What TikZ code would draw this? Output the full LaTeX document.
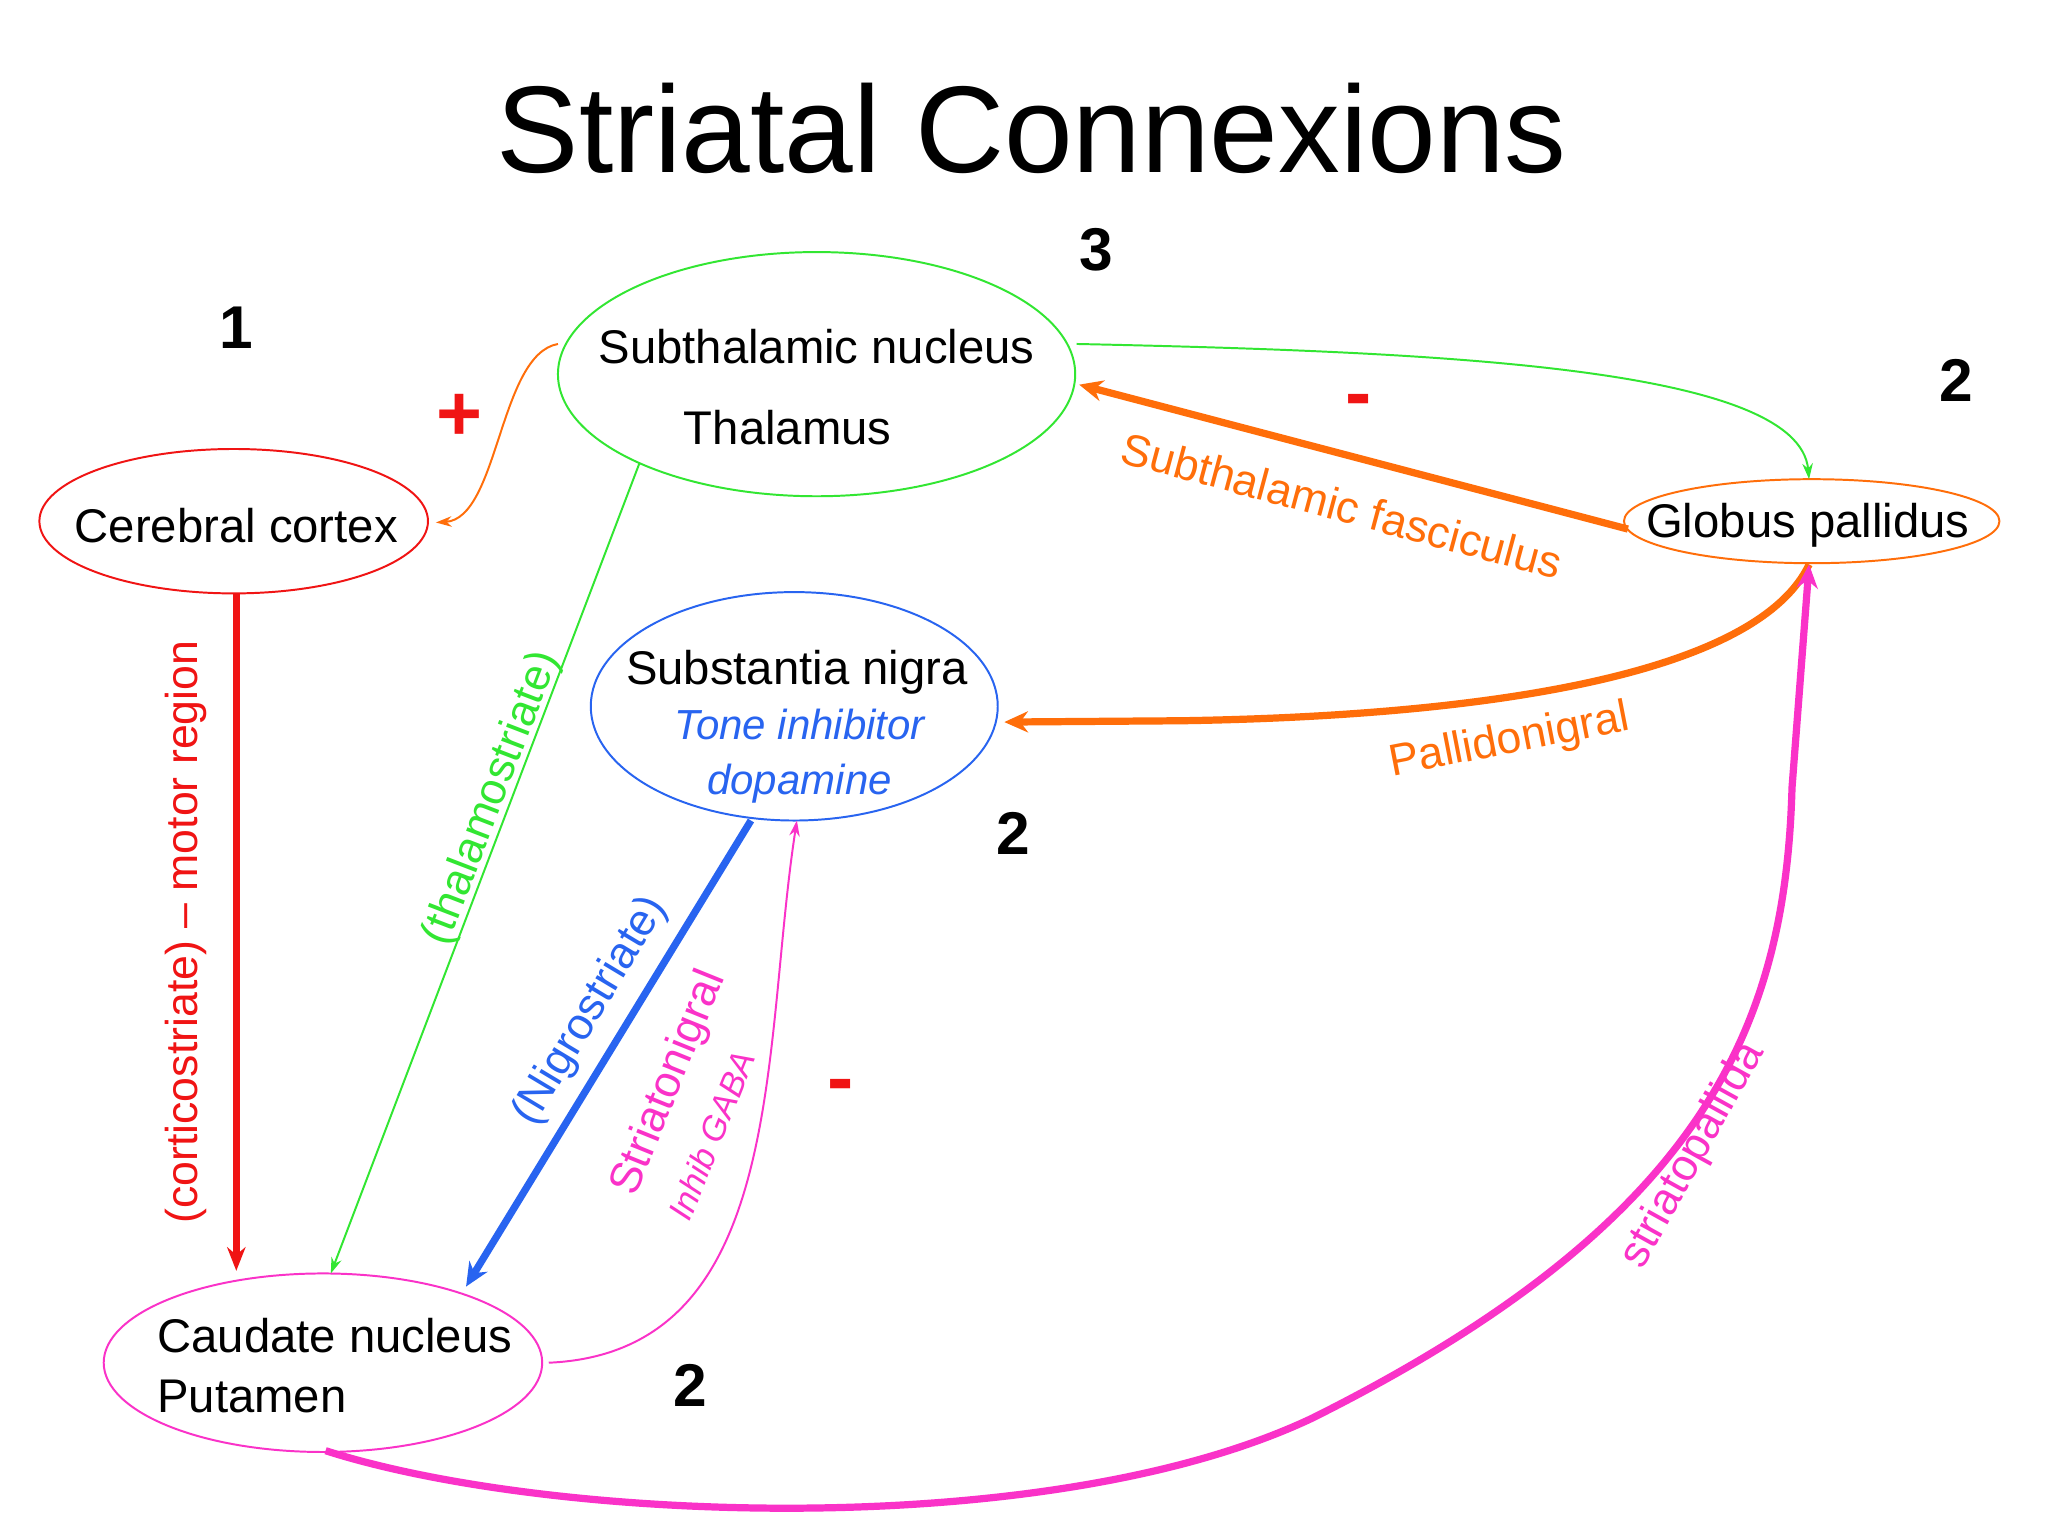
\documentclass[tikz,border=0pt]{standalone}
\usepackage{fontspec}
\setmainfont{Liberation Sans}
\usetikzlibrary{shapes.geometric,arrows.meta}
\definecolor{cred}{RGB}{240,20,20}
\definecolor{corange}{RGB}{255,110,10}
\definecolor{cgreen}{RGB}{50,230,50}
\definecolor{cblue}{RGB}{40,100,240}
\definecolor{cmag}{RGB}{250,50,200}
\tikzset{
 oval/.style={ellipse,draw,line width=1.5pt,inner sep=0pt},
 ntext/.style={font=\fontsize{36}{46}\selectfont,align=center},
 lab/.style={font=\fontsize{34}{40}\selectfont},
 num/.style={font=\fontsize{46}{50}\selectfont\bfseries},
 sign/.style={font=\fontsize{60}{60}\selectfont\bfseries,text=cred},
 thin/.style={line width=1.5pt,-{Stealth[length=12pt,width=8pt]}},
 thick/.style={line width=5.5pt,-{Stealth[length=18pt,width=16pt]}},
}
\begin{document}
\begin{tikzpicture}[x=1pt,y=-1pt]
\useasboundingbox[fill=white] (0,0) rectangle (1560,1170);
\node[font=\fontsize{94}{100}\selectfont] (title) at (786,98) {Striatal Connexions};
\node[oval,draw=cgreen,minimum width=394pt,minimum height=186pt] (st) at (622,285) {};
\node[ntext] (stt) at (622,264) {Subthalamic nucleus};
\node[ntext] (tht) at (600,326) {Thalamus};
\node[oval,draw=cred,minimum width=296pt,minimum height=110pt] (cc) at (178,397) {};
\node[ntext] (cct) at (180,400) {Cerebral cortex};
\node[oval,draw=corange,minimum width=286pt,minimum height=64pt] (gp) at (1380,397) {};
\node[ntext] (gpt) at (1377,400) {Globus pallidus};
\node[oval,draw=cblue,minimum width=310pt,minimum height=174pt] (sn) at (605,538) {};
\node[ntext] (snt) at (607,512) {Substantia nigra};
\node[font=\fontsize{32}{42}\selectfont\itshape,text=cblue,align=center] (snt2) at (609,576) {Tone inhibitor\\dopamine};
\node[oval,draw=cmag,minimum width=334pt,minimum height=136pt] (cn) at (246,1038) {};
\node[ntext,align=left] (cnt) at (255,1040) {Caudate nucleus\\Putamen};
\node[num] (n3) at (835,190) {3};
\node[num] (n1) at (180,250) {1};
\node[num] (n2a) at (1490,290) {2};
\node[num] (n2b) at (772,635) {2};
\node[num] (n2c) at (526,1055) {2};
\node[sign] (p1) at (350,318) {+};
\node[sign] (m1) at (1035,310) {-};
\node[sign] (m2) at (640,832) {-};
\coordinate (a1) at (180,452); \coordinate (a2) at (180,968);
\draw[thick,draw=cred,-{Stealth[length=18pt,width=14pt]},fill=cred] (a1) -- (a2);
\node[lab,text=cred,rotate=90] (l1) at (142,710) {(corticostriate) -- motor region};
\coordinate (b1) at (425,262); \coordinate (b2) at (332,398);
\draw[thin,draw=corange] (b1) .. controls (380,270) and (380,395) .. (b2);
\coordinate (c1) at (820,262); \coordinate (c2) at (1378,365);
\draw[thin,draw=cgreen] (c1) .. controls (1100,268) and (1370,280) .. (c2);
\coordinate (d1) at (1240,403); \coordinate (d2) at (822,293);
\draw[thick,draw=corange] (d1) -- (d2);
\node[lab,text=corange,rotate=-15] (l2) at (1022,385) {Subthalamic fasciculus};
\coordinate (e1) at (1378,430); \coordinate (e2) at (765,550);
\draw[thick,draw=corange] (e1) .. controls (1340,510) and (1150,545) .. (900,549) -- (e2);
\node[lab,text=corange,rotate=11] (l3) at (1150,565) {Pallidonigral};
\coordinate (f1) at (487,353); \coordinate (f2) at (252,970);
\draw[thin,draw=cgreen] (f1) -- (f2);
\node[lab,text=cgreen,rotate=69] (l4) at (375,608) {(thalamostriate)};
\coordinate (g1) at (572,625); \coordinate (g2) at (355,980);
\draw[thick,draw=cblue] (g1) -- (g2);
\node[lab,text=cblue,rotate=59] (l5) at (450,770) {(Nigrostriate)};
\coordinate (h1) at (418,1038); \coordinate (h2) at (607,625);
\draw[thin,draw=cmag] (h1) .. controls (600,1030) and (580,800) .. (h2);
\node[lab,text=cmag,rotate=68] (l6) at (510,825) {Striatonigral};
\node[font=\fontsize{26}{30}\selectfont\itshape,text=cmag,rotate=68] (l7) at (542,865) {Inhib GABA};
\coordinate (k1) at (248,1105); \coordinate (k2) at (1378,430);
\draw[thick,draw=cmag] (k1) .. controls (420,1160) and (800,1175) .. (1000,1080) .. controls (1300,930) and (1360,780) .. (1365,600) -- (k2);
\node[lab,text=cmag,rotate=61] (l8) at (1290,880) {striatopallida};
\end{tikzpicture}
\end{document}
